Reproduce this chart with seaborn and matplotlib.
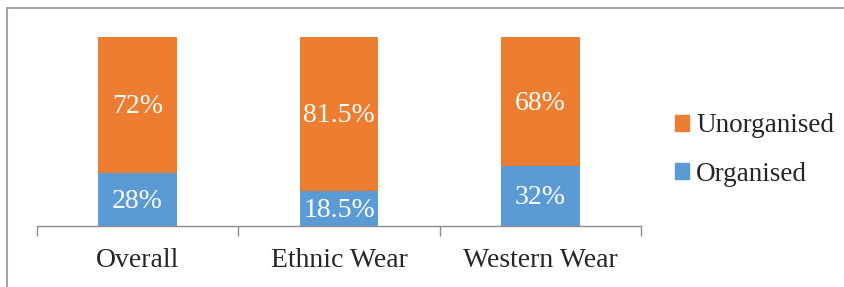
import matplotlib
matplotlib.use('Agg')
import matplotlib.pyplot as plt
import seaborn as sns
import pandas as pd
from matplotlib.lines import Line2D
from matplotlib.patches import Patch

categories = ['Overall', 'Ethnic Wear', 'Western Wear']
organised = [28, 18.5, 32]
unorganised = [72, 81.5, 68]
organised_labels = ['28%', '18.5%', '32%']
unorganised_labels = ['72%', '81.5%', '68%']

ORANGE = '#ED7D31'
BLUE = '#5B9BD5'
FS = 20

sns.set_style('white')
plt.rcParams['font.family'] = ['Liberation Serif', 'DejaVu Serif']

df = pd.DataFrame({'category': categories,
                   'organised': [v / 100 for v in organised],
                   'total': [(a + b) / 100 for a, b in zip(organised, unorganised)]})

fig = plt.figure(figsize=(8.45, 2.87), dpi=100)
ax = fig.add_axes([37 / 845, 1 - 226 / 287, (641 - 37) / 845, (226 - 37) / 287])

# stacked: draw the total in orange, then organised on top in blue
sns.barplot(data=df, x='category', y='total', color=ORANGE, width=0.39,
            saturation=1, ax=ax, linewidth=0)
sns.barplot(data=df, x='category', y='organised', color=BLUE, width=0.39,
            saturation=1, ax=ax, linewidth=0)

for i in range(len(categories)):
    o = organised[i] / 100
    u = unorganised[i] / 100
    ax.text(i, o / 2 - 0.01, organised_labels[i], ha='center', va='center',
            color='white', fontsize=FS)
    ax.text(i, o + u / 2 - 0.01, unorganised_labels[i], ha='center', va='center',
            color='white', fontsize=FS)

ax.set_xlim(-0.5, 2.5)
ax.set_ylim(0, 1)
ax.set_xlabel('')
ax.set_ylabel('')
ax.set_yticks([])
ax.set_xticks([-0.5, 0.5, 1.5, 2.5], minor=False)
ax.set_xticklabels([])
ax.set_xticks([0, 1, 2], minor=True)
ax.set_xticklabels(categories, minor=True, fontsize=FS)
ax.tick_params(axis='x', which='major', length=7, width=1, color='#8C8C8C',
               direction='out', bottom=True)
ax.tick_params(axis='x', which='minor', length=0, pad=16)
for s in ['top', 'right', 'left']:
    ax.spines[s].set_visible(False)
ax.spines['bottom'].set_color('#8C8C8C')
ax.spines['bottom'].set_linewidth(1)

handles = [Patch(color=ORANGE, label='Unorganised'),
           Patch(color=BLUE, label='Organised')]
fig.legend(handles=handles, loc='center left', bbox_to_anchor=(667 / 845, 1 - 150 / 287),
           frameon=False, fontsize=19.5, handlelength=0.5, handleheight=0.5,
           handletextpad=0.28, labelspacing=0.85, borderaxespad=0, borderpad=0.3)

# outer border (top and left only)
fig.add_artist(Line2D([7 / 845, 1], [1 - 8 / 287, 1 - 8 / 287], color='#A6A6A6', lw=1.5))
fig.add_artist(Line2D([7 / 845, 7 / 845], [0, 1 - 8 / 287], color='#A6A6A6', lw=1.5))

fig.savefig('out.png', dpi=100)
